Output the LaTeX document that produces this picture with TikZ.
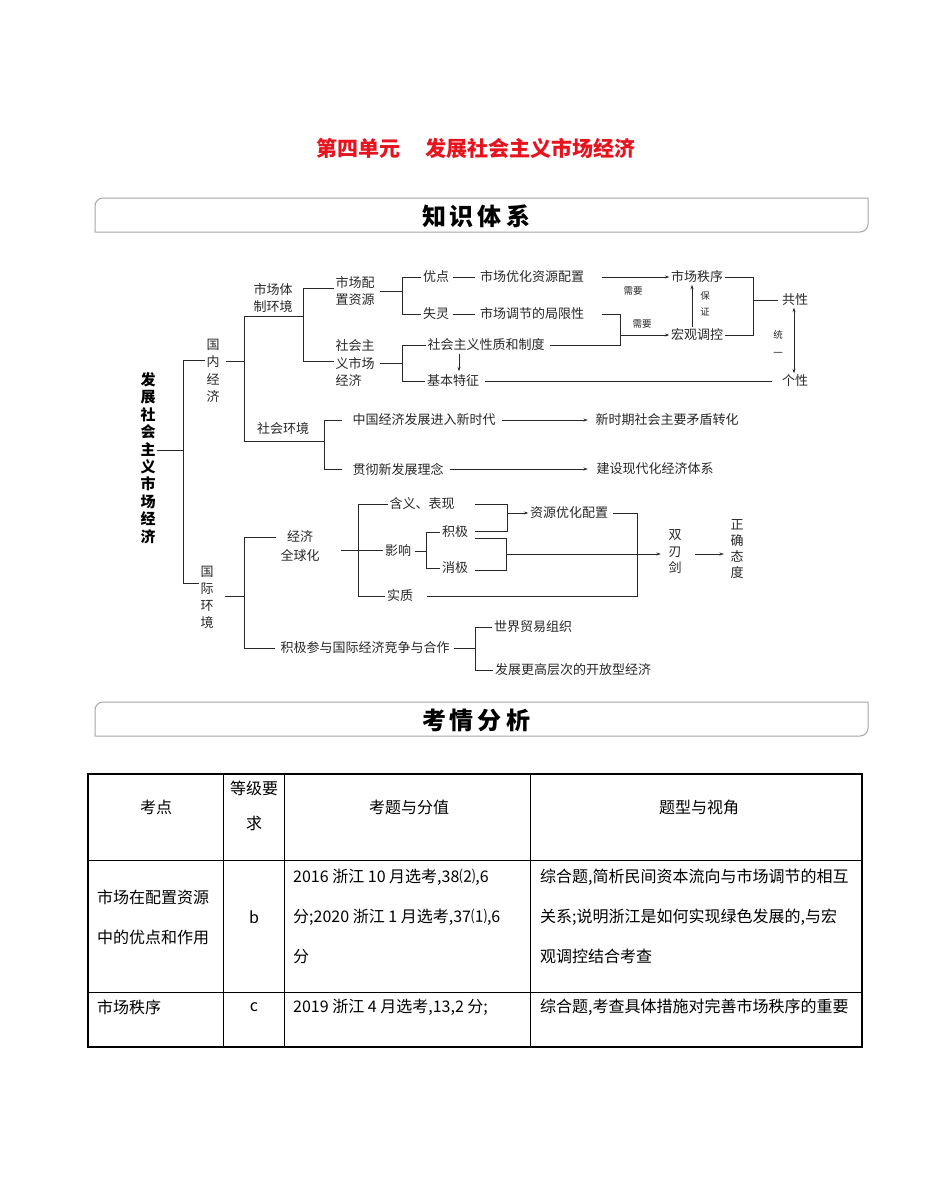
\documentclass[tikz,border=0pt]{standalone}
\usepackage{fontspec}
\setmainfont{Noto Sans CJK SC}
\usetikzlibrary{arrows.meta,calc,positioning}
\definecolor{TitleRed}{RGB}{230,20,30}
\definecolor{Ink}{RGB}{40,40,40}
\definecolor{FrameGray}{RGB}{165,165,165}

\tikzset{
	lbl/.style={font=\fontsize{13}{17.5}\selectfont, text=Ink, inner sep=1.5pt, align=center},
	smalllbl/.style={font=\fontsize{9.5}{16}\selectfont, text=Ink, inner sep=0pt, align=center},
	cell/.style={font=\fontsize{16}{40}\selectfont, inner sep=0pt, align=left},
	link/.style={Ink, line width=0.8pt},
	arr/.style={link, -{Stealth[length=4.5pt,width=3pt]}},
	darr/.style={link, {Stealth[length=4.5pt,width=3pt]}-{Stealth[length=4.5pt,width=3pt]}},
	banner/.style={FrameGray, line width=1pt}
}

\begin{document}
\begin{tikzpicture}[x=1pt, y=-1pt]
	\fill[white] (0,0) rectangle (950,1178);
	\useasboundingbox (0,0) rectangle (950,1178);
	
	% heading and banners
	\node[font=\fontsize{21}{24}\selectfont\bfseries, text=TitleRed] (title) at (476,148) {第四单元\hspace{1.2em}发展社会主义市场经济};
	\draw[banner] (95,232) -- (95,206) arc[start angle=180, end angle=270, radius=8] -- (868,198) -- (868,224) arc[start angle=0, end angle=90, radius=8] -- cycle;
	\node[font=\fontsize{24}{28}\selectfont\bfseries] (zstx) at (476,216) {知\,识\,体\,系};
	\draw[banner] (95,736) -- (95,710) arc[start angle=180, end angle=270, radius=8] -- (868,702) -- (868,728) arc[start angle=0, end angle=90, radius=8] -- cycle;
	\node[font=\fontsize{24}{28}\selectfont\bfseries] (kqfx) at (476,720) {考\,情\,分\,析};
	
	% root and first level
	\node[font=\fontsize{15}{17.4}\selectfont\bfseries, align=center, inner sep=1pt] (root) at (148,458) {发\\展\\社\\会\\主\\义\\市\\场\\经\\济};
	\node[lbl] (gnjj) at (213,371) {国\\内\\经\\济};
	\node[lbl, font=\fontsize{13}{17}\selectfont] (gjhj) at (207,597) {国\\际\\环\\境};
	\coordinate (j0) at (183,450);
	\coordinate (b0t) at (183,360);
	\coordinate (b0b) at (183,583);
	\draw[link] (root.east |- j0) -- (j0);
	\draw[link] (gnjj.west |- b0t) -- (b0t) -- (b0b) -- (gjhj.west |- b0b);
	
	% domestic economy
	\coordinate (b1) at (244,361);
	\coordinate (b1t) at (244,316);
	\coordinate (b1b) at (244,441);
	\coordinate (b2) at (303,316);
	\coordinate (b3) at (324,441);
	\node[lbl] (scjh) at (273,298) {市场体\\制环境};
	\node[lbl] (shhj) at (283,429) {社会环境};
	\draw[link] ([xshift=5pt]gnjj.east |- b1) -- (b1);
	\draw[link] (b1t) -- (b1b);
	\draw[link] (b1t) -- (b2);
	\draw[link] (b1b) -- (b3);
	
	\coordinate (b2t) at (303,288);
	\coordinate (b2b) at (303,361);
	\node[lbl] (scpz) at (355,291) {市场配\\置资源};
	\node[lbl, align=left, anchor=west] (shzy) at (334,363) {社会主\\义市场\\经济};
	\draw[link] (scpz.west |- b2t) -- (b2t) -- (b2b) -- (shzy.west |- b2b);
	
	\coordinate (b4t) at (402,277);
	\coordinate (b4b) at (402,314);
	\node[lbl] (yd) at (436,277) {优点};
	\node[lbl] (sl) at (436,314) {失灵};
	\node[lbl] (yhpz) at (532,277) {市场优化资源配置};
	\node[lbl] (jxx) at (532,314) {市场调节的局限性};
	\draw[link] ([xshift=4pt]scpz.east) -- (scpz.east -| b4t);
	\draw[link] (yd.west) -- (b4t) -- (b4b) -- (sl.west);
	\draw[link, shorten <=2pt, shorten >=3pt] (yd) -- (yhpz);
	\draw[link, shorten <=2pt, shorten >=3pt] (sl) -- (jxx);
	
	\node[lbl] (zx) at (697,277) {市场秩序};
	\node[lbl] (hgtk) at (697,335) {宏观调控};
	\node[lbl] (xzzd) at (486,345) {社会主义性质和制度};
	\node[lbl] (jbtz) at (453,381) {基本特征};
	\node[lbl] (gongx) at (795,300) {共性};
	\node[lbl] (gx) at (795,381) {个性};
	\draw[arr, shorten <=16pt] (yhpz) -- (zx);
	\node[smalllbl] (xy1) at (633,291) {需要};
	
	\coordinate (b5b) at (620,345);
	\coordinate (b5m) at (620,335);
	\draw[link] ([xshift=16pt]jxx.east) -| (b5b) -- ([xshift=4pt]xzzd.east);
	\draw[arr] (b5m) -- (hgtk.west |- b5m);
	\node[smalllbl] (xy2) at (642,324) {需要};
	
	\coordinate (b6t) at (402,345);
	\coordinate (b6b) at (402,381);
	\draw[link] ([xshift=4pt]shzy.east) -- (shzy.east -| b6t);
	\draw[link] (xzzd.west) -- (b6t) -- (b6b) -- (jbtz.west);
	\draw[arr, shorten <=1pt, shorten >=2pt] (xzzd.south -| 459,0) -- (jbtz.north -| 459,0);
	\draw[link, shorten <=4pt, shorten >=8pt] (jbtz) -- (gx);
	
	\coordinate (b7t) at (753,277);
	\coordinate (b7b) at (753,335);
	\coordinate (b7m) at (753,300);
	\draw[link] (zx.east) -- (b7t) -- (b7b) -- (hgtk.east);
	\draw[link] (b7m) -- ([xshift=-2pt]gongx.west);
	\draw[arr] (hgtk.north -| 692,0) -- (zx.south -| 692,0);
	\node[smalllbl] (bz) at (705,304) {保\\证};
	\draw[darr] (gongx.south -| 794,0) -- (gx.north -| 794,0);
	\node[smalllbl, font=\fontsize{9.5}{18}\selectfont] (ty) at (778,343) {统\\一};
	
	% social environment
	\coordinate (b8t) at (324,420);
	\coordinate (b8b) at (324,469);
	\node[lbl] (xsd) at (424,420) {中国经济发展进入新时代};
	\node[lbl] (xfz) at (398,469) {贯彻新发展理念};
	\node[lbl] (zymd) at (667,420) {新时期社会主要矛盾转化};
	\node[lbl] (xdh) at (655,469) {建设现代化经济体系};
	\draw[link] ([xshift=-9pt]xsd.west) -| (b8b) -- ([xshift=-9pt]xfz.west);
	\draw[arr, shorten <=5pt, shorten >=6pt] (xsd) -- (zymd);
	\draw[arr, shorten <=5pt, shorten >=7pt] (xfz) -- (xdh);
	
	% international environment
	\coordinate (c1) at (244,596);
	\coordinate (c1t) at (244,537);
	\coordinate (c1b) at (244,648);
	\node[lbl, font=\fontsize{13}{19}\selectfont] (qqh) at (300,546) {经济\\全球化};
	\node[lbl] (jjcy) at (365,648) {积极参与国际经济竞争与合作};
	\draw[link] ([xshift=10pt]gjhj.east |- c1) -- (c1);
	\draw[link] (c1t) -- (c1b);
	\draw[link] (c1t) -- ([xshift=-3pt]qqh.west |- c1t);
	\draw[link] (c1b) -- ([xshift=-4pt]jjcy.west);
	
	\coordinate (c2) at (358,550);
	\coordinate (c2t) at (358,504);
	\coordinate (c2b) at (358,596);
	\node[lbl] (hy) at (422,504) {含义、表现};
	\node[lbl] (yx) at (398,551) {影响};
	\node[lbl] (sz) at (400,596) {实质};
	\draw[link] ([xshift=20pt]qqh.east |- c2) -- (yx.west |- c2);
	\draw[link] (c2t) -- (c2b);
	\draw[link] (c2t) -- (hy.west);
	\draw[link] (c2b) -- (sz.west);
	
	\coordinate (c3t) at (426,532);
	\coordinate (c3b) at (426,568);
	\node[lbl] (jj) at (455,532) {积极};
	\node[lbl] (xj) at (455,568) {消极};
	\draw[link] ([xshift=2pt]yx.east) -- (yx.east -| c3t);
	\draw[link] (jj.west) -- (c3t) -- (c3b) -- (xj.west);
	
	\coordinate (c4t) at (507,504);
	\coordinate (c4b) at (507,531);
	\coordinate (c4m) at (507,513);
	\node[lbl] (zyyh) at (569,513) {资源优化配置};
	\draw[link] ([xshift=19pt]hy.east) -- (c4t) -- (c4b) -- ([xshift=5pt,yshift=1pt]jj.east);
	\draw[arr] (c4m) -- (zyyh.west);
	
	\coordinate (c5t) at (506,538);
	\coordinate (c5b) at (506,570);
	\coordinate (c5m) at (506,554);
	\node[lbl, font=\fontsize{13}{16.5}\selectfont] (srj) at (675,552) {双\\刃\\剑};
	\node[lbl, font=\fontsize{13}{16}\selectfont] (zqtd) at (737,549) {正\\确\\态\\度};
	\draw[link] ([xshift=5pt,yshift=-6pt]jj.east) -- (c5t) -- (c5b) -- ([xshift=5pt,yshift=-2pt]xj.east);
	\draw[arr] (c5m) -- ([xshift=-6pt]srj.west |- c5m);
	\draw[arr] ([xshift=12pt]srj.east |- c5m) -- ([xshift=-5pt]zqtd.west |- c5m);
	
	\coordinate (c6t) at (637,513);
	\coordinate (c6b) at (637,596);
	\draw[link] ([xshift=3pt]zyyh.east) -- (c6t) -- (c6b) -- ([xshift=12pt]sz.east);
	
	\coordinate (c7t) at (475,627);
	\coordinate (c7b) at (475,670);
	\node[lbl] (mygz) at (533,627) {世界贸易组织};
	\node[lbl] (kfx) at (573,670) {发展更高层次的开放型经济};
	\draw[link] ([xshift=3pt]jjcy.east) -- (jjcy.east -| c7t);
	\draw[link] (mygz.west) -- (c7t) -- (c7b) -- (kfx.west);
	
	% table
	\draw[line width=1.1pt] (88,774) rectangle (862,1047);
	\draw[line width=0.8pt] (88,860) -- (862,860) (88,992) -- (862,992);
	\draw[line width=0.8pt] (223,774) -- (223,1047) (284,774) -- (284,1047) (530,774) -- (530,1047);
	
	\node[cell] (h1) at (156,807) {考点};
	\node[cell, align=center, font=\fontsize{16}{35}\selectfont] (h2) at (254,806) {等级要\\求};
	\node[cell] (h3) at (409,807) {考题与分值};
	\node[cell] (h4) at (699,807) {题型与视角};
	
	\node[cell, anchor=west] (r1c1) at (97,917) {市场在配置资源\\中的优点和作用};
	\node[cell] (r1c2) at (254,917) {b};
	\node[cell, anchor=west] (r1c3) at (293,916) {2016 浙江 10 月选考,38⑵,6\\分;2020 浙江 1 月选考,37⑴,6\\分};
	\node[cell, anchor=west] (r1c4) at (540,916) {综合题,简析民间资本流向与市场调节的相互\\关系;说明浙江是如何实现绿色发展的,与宏\\观调控结合考查};
	
	\node[cell, anchor=west] (r2c1) at (97,1007) {市场秩序};
	\node[cell] (r2c2) at (254,1007) {c};
	\node[cell, anchor=west] (r2c3) at (293,1007) {2019 浙江 4 月选考,13,2 分;};
	\node[cell, anchor=west] (r2c4) at (540,1007) {综合题,考查具体措施对完善市场秩序的重要};
\end{tikzpicture}
\end{document}
